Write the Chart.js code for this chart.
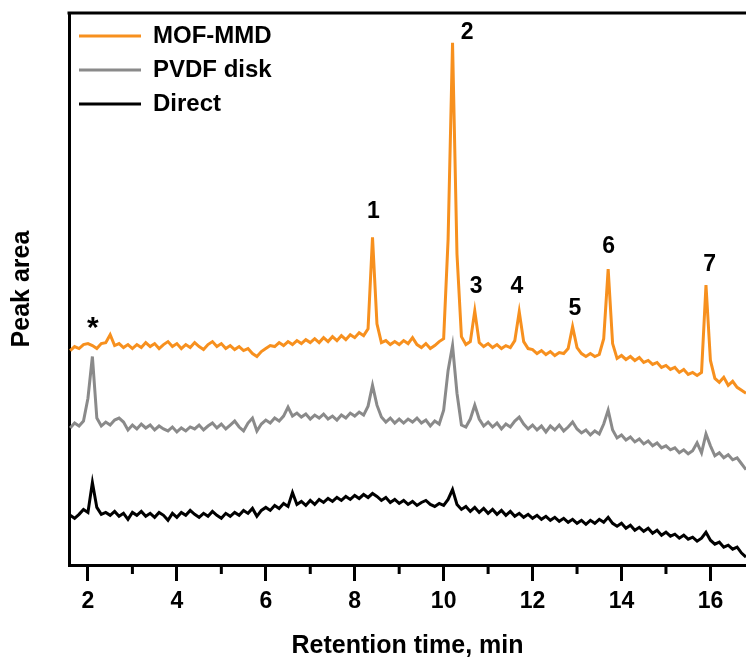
<!DOCTYPE html>
<html>
<head>
<meta charset="utf-8">
<script src="https://cdn.jsdelivr.net/npm/chart.js@4"></script>
<style>
  html, body { margin: 0; padding: 0; background: #fff; overflow: hidden; }
  canvas { display: block; }
</style>
</head>
<body>
<canvas id="c" width="746" height="663"></canvas>
<script>
// Retention time grid (min), 0.1 min sampling from 1.6 to 16.8
const times = [];
for (let i = 0; i <= 152; i++) times.push(+(1.6 + i * 0.1).toFixed(1));

// Signal (arbitrary units, offset traces)
const mofMmd = [
  216,220,218,222,                                  // 1.6-1.9
  223,221,218,223,224,232,221,223,219,222,          // 2.x
  218,222,219,224,220,223,218,222,225,220,          // 3.x
  223,218,222,219,224,220,217,222,225,220,          // 4.x
  223,218,221,217,220,216,218,213,210,215,          // 5.x
  218,221,220,224,221,225,222,226,223,227,          // 6.x
  224,228,224,229,225,230,226,231,227,232,          // 7.x
  229,234,231,238,330,243,224,226,222,225,          // 8.x
  222,226,223,229,222,219,223,218,221,225,          // 9.x
  228,328,526,313,230,222,225,256,224,220,          // 10.x
  223,219,222,218,221,219,226,255,225,218,          // 11.x
  217,213,216,212,215,211,214,213,218,240,          // 12.x
  219,213,210,213,210,212,228,298,223,208,          // 13.x
  211,207,210,206,209,204,206,202,204,199,          // 14.x
  201,197,199,194,197,192,194,191,194,282,          // 15.x
  206,188,184,189,181,185,179,176,173               // 16.0-16.8
];
const pvdfDisk = [
  138,143,140,145,
  168,210,148,140,144,141,146,148,144,136,
  141,137,142,138,141,136,140,137,135,139,
  134,138,135,139,137,141,136,140,143,138,
  142,137,141,145,139,135,143,148,135,142,
  146,143,148,145,150,159,150,153,149,152,
  147,151,148,152,147,150,146,151,148,153,
  150,154,151,160,181,161,149,144,148,143,
  147,143,147,144,148,143,146,140,145,142,
  156,196,221,173,141,139,147,161,147,140,
  144,139,143,137,142,139,145,149,142,137,
  141,136,140,134,140,136,141,135,139,144,
  137,133,136,131,135,132,142,156,136,128,
  131,126,129,124,127,122,125,120,123,118,
  120,116,118,113,116,112,115,123,113,132,
  120,110,113,108,111,106,108,102,96
];
const direct = [
  50,47,51,56,
  53,83,58,51,53,50,54,49,52,46,
  53,50,54,49,52,48,53,50,45,52,
  48,53,50,55,51,48,52,49,54,50,
  47,52,49,53,50,55,52,57,49,55,
  58,55,60,57,62,59,73,61,64,60,
  65,61,66,63,67,64,68,65,69,66,
  70,67,71,68,72,69,65,68,63,66,
  62,65,61,64,60,63,65,61,59,62,
  60,66,76,61,56,59,54,58,53,57,
  52,56,51,55,50,54,49,52,48,51,
  47,50,46,49,45,48,44,47,43,46,
  42,45,41,45,42,46,43,48,42,39,
  42,37,40,35,38,34,37,32,35,30,
  33,29,31,27,30,26,28,24,27,33,
  25,21,23,18,20,16,18,12,8
];

const seriesNames = ['MOF-MMD', 'PVDF disk', 'Direct'];
const seriesColors = ['#F7901E', '#8A8A8A', '#000000'];
const xMajorTicks = [2, 4, 6, 8, 10, 12, 14, 16];
const xMinorTicks = [3, 5, 7, 9, 11, 13, 15];

// Peak annotations: label, retention time, signal level of label
const peakLabels = ['*', '1', '2', '3', '4', '5', '6', '7'];
const peakLabelX = [2.11, 8.42, 10.53, 10.73, 11.65, 12.95, 13.71, 15.98];
const peakLabelY = [245, 356, 536, 280, 280, 258, 321, 303];

const FONT = '"Liberation Sans", Arial, Helvetica, sans-serif';
const LW = 3;
const toPts = arr => times.map((t, i) => ({ x: t, y: arr[i] }));

const framePlugin = {
  id: 'frame',
  afterDraw(chart) {
    const { ctx, chartArea: a, scales } = chart;
    ctx.save();
    ctx.strokeStyle = '#000';
    ctx.lineWidth = 3;
    ctx.beginPath();
    ctx.moveTo(a.left - 1.5, a.top);
    ctx.lineTo(a.right + 2, a.top);
    ctx.stroke();
    // minor ticks
    ctx.beginPath();
    xMinorTicks.forEach(v => {
      const px = scales.x.getPixelForValue(v);
      ctx.moveTo(px, a.bottom);
      ctx.lineTo(px, a.bottom + 9);
    });
    ctx.stroke();
    // peak labels
    ctx.fillStyle = '#000';
    ctx.textAlign = 'center';
    ctx.textBaseline = 'middle';
    peakLabels.forEach((lab, i) => {
      const px = scales.x.getPixelForValue(peakLabelX[i]);
      const py = scales.y.getPixelForValue(peakLabelY[i]);
      ctx.font = lab === '*' ? 'bold 30px ' + FONT : 'bold 23px ' + FONT;
      ctx.fillText(lab, px, lab === '*' ? py + 7 : py);
    });
    ctx.restore();
  }
};

const series = [mofMmd, pvdfDisk, direct];

new Chart(document.getElementById('c'), {
  type: 'line',
  data: {
    datasets: series.map((s, i) => ({
      label: seriesNames[i],
      data: toPts(s),
      borderColor: seriesColors[i],
      backgroundColor: seriesColors[i],
      borderWidth: LW,
      tension: 0,
      pointRadius: 0,
      pointHoverRadius: 0
    }))
  },
  options: {
    responsive: false,
    animation: false,
    devicePixelRatio: 1,
    layout: { padding: { top: 13, left: 0, right: 0, bottom: 0 } },
    plugins: {
      tooltip: { enabled: false },
      legend: {
        position: 'chartArea',
        align: 'start',
        title: { display: true, text: '', font: { size: 14, lineHeight: 1 }, padding: 0 },
        labels: {
          usePointStyle: true,
          pointStyle: 'line',
          pointStyleWidth: 62,
          boxHeight: 24,
          padding: 10,
          color: '#000',
          font: { family: FONT, size: 24, weight: 'bold' }
        }
      }
    },
    scales: {
      x: {
        type: 'linear',
        min: 1.574,
        max: 16.8,
        border: { display: true, color: '#000', width: 3 },
        grid: { drawOnChartArea: false, drawTicks: true, tickLength: 16, tickWidth: 3, tickColor: '#000' },
        afterBuildTicks: s => { s.ticks = xMajorTicks.map(v => ({ value: v })); },
        afterFit: s => { s.height = 98; },
        ticks: {
          padding: 7,
          color: '#000',
          font: { family: FONT, size: 23, weight: 'bold' },
          callback: v => String(v)
        },
        title: {
          display: true,
          text: 'Retention time, min',
          color: '#000',
          font: { family: FONT, size: 25, weight: 'bold' },
          padding: { top: 4, bottom: 2 }
        }
      },
      y: {
        type: 'linear',
        min: 0,
        max: 556,
        border: { display: true, color: '#000', width: 3 },
        grid: { drawOnChartArea: false, drawTicks: false },
        ticks: { display: false },
        title: {
          display: true,
          text: 'Peak area',
          color: '#000',
          font: { family: FONT, size: 25, weight: 'bold' },
          padding: { top: 7, bottom: 32 }
        }
      }
    }
  },
  plugins: [framePlugin]
});
</script>
</body>
</html>
